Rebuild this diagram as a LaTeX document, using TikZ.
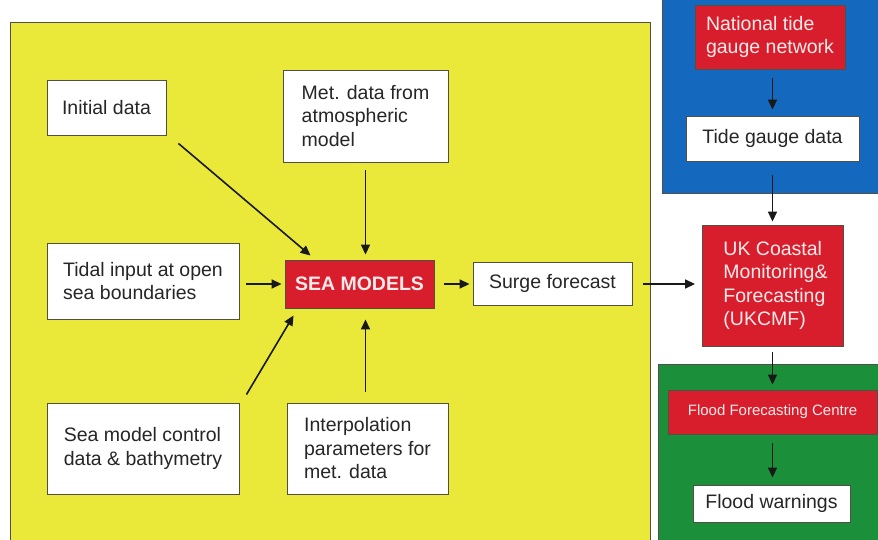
\documentclass[tikz,border=0pt]{standalone}
\usepackage{fontspec}
\setmainfont{Liberation Sans}
\usetikzlibrary{arrows.meta,calc}
\definecolor{panelyellow}{RGB}{234,233,58}
\definecolor{panelblue}{RGB}{20,104,190}
\definecolor{panelgreen}{RGB}{27,143,58}
\definecolor{boxred}{RGB}{216,30,44}
\definecolor{edgegray}{RGB}{80,80,70}
\tikzset{
  panel/.style={draw=edgegray, line width=1pt},
  wbox/.style={draw=edgegray, line width=0.9pt, fill=white, align=left,
    inner sep=0pt, font=\fontsize{19.5}{23.5}\selectfont, text=black!85},
  rbox/.style={draw=edgegray, line width=0.9pt, fill=boxred, align=left,
    inner sep=0pt, font=\fontsize{19.5}{23.5}\selectfont, text=white!92!red},
  arr/.style={draw=black!90, line width=1.6pt, -{Triangle[length=10pt,width=9pt]}}
}
\begin{document}
\begin{tikzpicture}[x=1pt,y=-1pt]
\useasboundingbox (0,0) rectangle (878,539);
\fill[white] (0,0) rectangle (878,539);

% background panels
\path[panel, fill=panelyellow] (10,22) rectangle (650,550);
\path[panel, fill=panelblue] (662,-5) rectangle (885,193);
\path[panel, fill=panelgreen] (658,364) rectangle (885,550);

% model inputs
\node[wbox, minimum width=119pt, minimum height=55pt] (init) at (106.5,107.5) {Initial data};
\node[wbox, minimum width=165pt, minimum height=92pt] (met) at (365.5,116) {Met. data from\\atmospheric\\model};
\node[wbox, minimum width=192pt, minimum height=76pt] (tidal) at (143,281) {Tidal input at open\\sea boundaries};
\node[wbox, minimum width=192pt, minimum height=91pt] (ctrl) at (143,448.5) {Sea model control\\data \& bathymetry};
\node[wbox, minimum width=161pt, minimum height=91pt] (interp) at (367.5,448.5) {Interpolation\\parameters for\\met. data};

% model and its output
\node[rbox, align=center, minimum width=149pt, minimum height=48pt, font=\fontsize{19.5}{23.5}\selectfont\bfseries] (sea) at (359.5,284) {SEA MODELS};
\node[wbox, minimum width=159pt, minimum height=43pt] (surge) at (552.5,283.5) {Surge forecast};

% tide gauge chain
\node[rbox, minimum width=150pt, minimum height=64pt] (ntg) at (770,37) {National tide\\gauge network};
\node[wbox, align=center, minimum width=173pt, minimum height=45pt] (tgd) at (772.5,138.5) {Tide gauge data};
\node[rbox, minimum width=141pt, minimum height=121pt] (ukc) at (773,285.5) {\hspace*{5pt}UK Coastal\\\hspace*{5pt}Monitoring\&\\\hspace*{5pt}Forecasting\\\hspace*{5pt}(UKCMF)};

% flood warning chain
\node[rbox, align=center, minimum width=209pt, minimum height=44pt, font=\fontsize{15}{18}\selectfont] (ffc) at (772.5,412) {Flood Forecasting Centre};
\node[wbox, align=center, minimum width=157pt, minimum height=37pt] (fw) at (771.5,503.5) {Flood warnings};

% connectors
\draw[arr] ($(init.south east)+(12,8)$) -- ($(sea.north west)+(26,-4)$);
\draw[arr, shorten <=8pt, shorten >=5pt] (met.south) -- (met.south |- sea.north);
\draw[arr, shorten <=7pt, shorten >=3pt] (tidal.east |- sea.west) -- (sea.west);
\draw[arr] ($(ctrl.north east)+(7,-8)$) -- ($(sea.south west)+(9,7)$);
\draw[arr, shorten <=11pt, shorten >=11pt] (interp.north -| met.south) -- (met.south |- sea.south);
\draw[arr, shorten <=10pt, shorten >=3pt] (sea.east) -- (surge.west |- sea.east);
\draw[arr, shorten <=11pt, shorten >=7pt] (surge.east |- sea.east) -- (ukc.west |- sea.east);
\draw[arr, shorten <=9pt, shorten >=6pt] (ntg.south -| tgd.north) -- (tgd.north);
\draw[arr, shorten <=14pt, shorten >=3pt] (tgd.south) -- (tgd.south |- ukc.north);
\draw[arr, shorten <=6pt, shorten >=5pt] (ukc.south -| tgd.south) -- (tgd.south |- ffc.north);
\draw[arr, shorten <=9pt, shorten >=7pt] (ffc.south -| tgd.south) -- (tgd.south |- fw.north);
\end{tikzpicture}
\end{document}
